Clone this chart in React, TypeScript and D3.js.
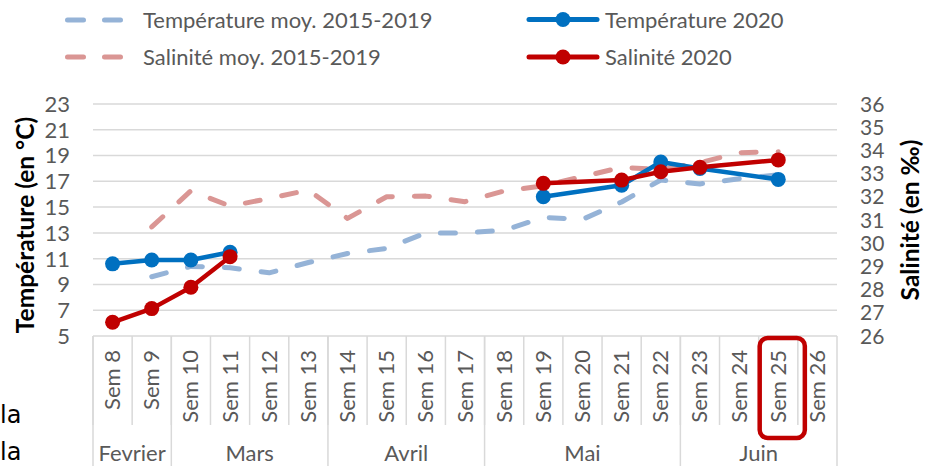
import React from "react";
import * as d3 from "d3";

const weeks = ["Sem 8","Sem 9","Sem 10","Sem 11","Sem 12","Sem 13","Sem 14","Sem 15","Sem 16","Sem 17","Sem 18","Sem 19","Sem 20","Sem 21","Sem 22","Sem 23","Sem 24","Sem 25","Sem 26"];
const months = [
  { name: "Fevrier", from: "Sem 8", to: "Sem 9" },
  { name: "Mars", from: "Sem 10", to: "Sem 13" },
  { name: "Avril", from: "Sem 14", to: "Sem 17" },
  { name: "Mai", from: "Sem 18", to: "Sem 22" },
  { name: "Juin", from: "Sem 23", to: "Sem 26" },
];
const tempMoy: (number | null)[] = [null, 9.6, 10.4, 10.3, 9.9, 10.7, 11.4, 11.8, 13.0, 13.0, 13.2, 14.2, 14.05, 15.4, 17.1, 16.8, 17.2, 17.5, null];
const salMoy: (number | null)[] = [null, 30.7, 32.26, 31.6, 31.93, 32.29, 31.07, 32.0, 32.03, 31.79, 32.25, 32.47, 32.87, 33.27, 33.18, 33.47, 33.9, 33.94, null];
const temp2020: (number | null)[] = [10.6, 10.9, 10.9, 11.5, null, null, null, null, null, null, null, 15.8, null, 16.7, 18.5, 18.0, null, 17.15, null];
const sal2020: (number | null)[] = [26.59, 27.18, 28.1, 29.42, null, null, null, null, null, null, null, 32.58, null, 32.72, 33.08, 33.27, null, 33.59, null];
const tempTicks = [5, 7, 9, 11, 13, 15, 17, 19, 21, 23];
const salTicks = [26, 27, 28, 29, 30, 31, 32, 33, 34, 35, 36];
const highlighted = "Sem 25";

const FONT = "Lato, 'Open Sans', sans-serif";
const GRAY = "#595959";
const GRID = "#d9d9d9";
const C_T = "#0070c0";
const C_S = "#c00000";
const C_TM = "#95b3d7";
const C_SM = "#da9694";

const L = 93, R = 837, TOP = 104, BOT = 336;
const x = d3.scaleBand<string>().domain(weeks).range([L, R]).padding(0);
const yT = d3.scaleLinear().domain([5, 23]).range([BOT, TOP]);
const yS = d3.scaleLinear().domain([26, 36]).range([BOT, TOP]);
const cx = (w: string) => (x(w) as number) + x.bandwidth() / 2;

type P = { w: string; v: number };
function segments(vals: (number | null)[]): P[][] {
  const pts: { i: number; w: string; v: number }[] = [];
  vals.forEach((v, i) => { if (v != null) pts.push({ i, w: weeks[i], v }); });
  const segs: P[][] = [];
  let cur: P[] = [];
  pts.forEach((p, k) => {
    if (k > 0 && p.i - pts[k - 1].i > 2) { segs.push(cur); cur = []; }
    cur.push({ w: p.w, v: p.v });
  });
  if (cur.length) segs.push(cur);
  return segs;
}

function Series({ vals, y, color, dashed }: { vals: (number | null)[]; y: d3.ScaleLinear<number, number>; color: string; dashed?: boolean }) {
  const line = d3.line<P>().x((d) => cx(d.w)).y((d) => y(d.v));
  const segs = segments(vals);
  return (
    <g>
      {segs.map((s, i) => (
        <path key={i} d={line(s) || ""} fill="none" stroke={color} strokeWidth={dashed ? 5 : 4.5}
          strokeDasharray={dashed ? "15 22" : undefined} strokeLinecap="round" strokeLinejoin="round" />
      ))}
      {!dashed && segs.flat().map((d, i) => (
        <circle key={"c" + i} cx={cx(d.w)} cy={y(d.v)} r={7.5} fill={color} />
      ))}
    </g>
  );
}

export default function App() {
  const monthEdges = months.map((m) => x(m.from) as number).concat([R]);
  return (
    <svg width={935} height={466} style={{ position: "absolute", left: 0, top: 0 }} fontFamily={FONT}>
      <rect width={935} height={466} fill="#fff" />
      {tempTicks.map((t) => (
        <line key={t} x1={L} x2={R} y1={yT(t)} y2={yT(t)} stroke={GRID} strokeWidth={1.5} />
      ))}
      {weeks.map((w) => (
        <line key={w} x1={x(w)} x2={x(w)} y1={BOT} y2={425} stroke={GRID} strokeWidth={1.5} />
      ))}
      {monthEdges.map((e, i) => (
        <line key={"m" + i} x1={e} x2={e} y1={BOT} y2={466} stroke={GRID} strokeWidth={1.5} />
      ))}
      {tempTicks.map((t) => (
        <text key={t} x={70} y={yT(t)} dy="0.36em" textAnchor="end" fontSize={22} fill={GRAY}>{t}</text>
      ))}
      {salTicks.map((t) => (
        <text key={t} x={860} y={yS(t)} dy="0.36em" textAnchor="start" fontSize={21} fill={GRAY}>{t}</text>
      ))}
      <text transform="translate(34,225) rotate(-90)" textAnchor="middle" fontSize={24.5} fontWeight="bold" fill="#000">Température (en °C)</text>
      <text transform="translate(919,220) rotate(-90)" textAnchor="middle" fontSize={24.5} fontWeight="bold" fill="#000">Salinité (en ‰)</text>
      {weeks.map((w) => (
        <text key={w} transform={`translate(${cx(w) + 7.5},350) rotate(-90)`} textAnchor="end" fontSize={22} fill={GRAY}>{w}</text>
      ))}
      {months.map((m, i) => (
        <text key={m.name} x={(monthEdges[i] + monthEdges[i + 1]) / 2} y={461} textAnchor="middle" fontSize={22} fill={GRAY}>{m.name}</text>
      ))}
      <rect x={(x(highlighted) as number) + 1} y={338} width={x.bandwidth() + 6} height={100} rx={8} fill="none" stroke={C_S} strokeWidth={4.5} />
      <Series vals={tempMoy} y={yT} color={C_TM} dashed />
      <Series vals={salMoy} y={yS} color={C_SM} dashed />
      <Series vals={temp2020} y={yT} color={C_T} />
      <Series vals={sal2020} y={yS} color={C_S} />
      <line x1={67.5} x2={120.5} y1={20} y2={20} stroke={C_TM} strokeWidth={5} strokeDasharray="16 21" strokeLinecap="round" />
      <text x={143} y={28} fontSize={22} fill={GRAY}>Température moy. 2015-2019</text>
      <line x1={67.5} x2={120.5} y1={57} y2={57} stroke={C_SM} strokeWidth={5} strokeDasharray="16 21" strokeLinecap="round" />
      <text x={143} y={65} fontSize={22} fill={GRAY}>Salinité moy. 2015-2019</text>
      <line x1={529} x2={597} y1={19.5} y2={19.5} stroke={C_T} strokeWidth={5} strokeLinecap="round" />
      <circle cx={563} cy={19.5} r={7.5} fill={C_T} />
      <text x={605} y={28} fontSize={22} fill={GRAY}>Température 2020</text>
      <line x1={529} x2={597} y1={57} y2={57} stroke={C_S} strokeWidth={5} strokeLinecap="round" />
      <circle cx={563} cy={57} r={7.5} fill={C_S} />
      <text x={605} y={65} fontSize={22} fill={GRAY}>Salinité 2020</text>
      <text x={0} y={423} fontSize={24} fill="#000" fontFamily="'DejaVu Sans', sans-serif">la</text>
      <text x={0} y={460} fontSize={24} fill="#000" fontFamily="'DejaVu Sans', sans-serif">la</text>
    </svg>
  );
}
